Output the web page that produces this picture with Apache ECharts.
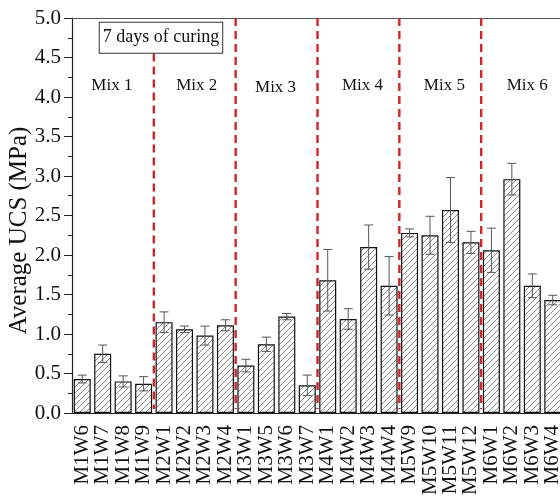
<!DOCTYPE html>
<html>
<head>
<meta charset="utf-8">
<script src="https://cdn.jsdelivr.net/npm/echarts@6/dist/echarts.min.js"></script>
<style>html,body{margin:0;padding:0;background:#fff;}#c{width:560px;height:500px;}</style>
</head>
<body>
<div id="c"></div>
<script>
const categories = ['M1W6','M1W7','M1W8','M1W9','M2W1','M2W2','M2W3','M2W4','M3W1','M3W5','M3W6','M3W7','M4W1','M4W2','M4W3','M4W4','M5W9','M5W10','M5W11','M5W12','M6W1','M6W2','M6W3','M6W4'];
const ucsMean  = [0.43,0.75,0.40,0.37,1.15,1.06,0.98,1.11,0.60,0.87,1.22,0.35,1.68,1.19,2.10,1.61,2.28,2.25,2.57,2.16,2.06,2.96,1.61,1.43];
const ucsError = [0.05,0.11,0.07,0.09,0.13,0.04,0.12,0.07,0.08,0.09,0.04,0.13,0.39,0.13,0.28,0.37,0.05,0.24,0.41,0.14,0.28,0.20,0.15,0.06];
const yTicks = [0,0.5,1,1.5,2,2.5,3,3.5,4,4.5,5];
const mixNames = ['Mix 1','Mix 2','Mix 3','Mix 4','Mix 5','Mix 6'];
const mixBoundaries = [3.5, 7.5, 11.5, 15.5, 19.5];
const curingNote = '7 days of curing';

// annotation placement (in axis units)
const mixLabelX = [1.45, 5.6, 9.45, 13.7, 17.7, 21.75];
const mixLabelY = [4.15, 4.15, 4.12, 4.15, 4.15, 4.15];
const boundaryTop = [4.55, 5, 5, 5, 5];
const noteX = 3.85, noteY = 4.75;

const FONT = '"Liberation Serif", "Times New Roman", serif';

// hatch pattern
const pc = document.createElement('canvas');
pc.width = 6; pc.height = 6;
const g = pc.getContext('2d');
g.fillStyle = '#fff'; g.fillRect(0,0,6,6);
g.strokeStyle = '#7a7a7a'; g.lineWidth = 0.9;
g.beginPath();
g.moveTo(0,6); g.lineTo(6,0);
g.moveTo(-1,1); g.lineTo(1,-1);
g.moveTo(5,7); g.lineTo(7,5);
g.stroke();

function xAt(api, p) {
  const i = Math.floor(p);
  const bw = api.size([1, 0])[0];
  return api.coord([i, 0])[0] + (p - i) * bw;
}

const chart = echarts.init(document.getElementById('c'), null, {renderer: 'canvas'});
chart.setOption({
  backgroundColor: '#fff',
  animation: false,
  grid: {left: 72, right: -3, top: 18, bottom: 87, containLabel: false, outerBoundsMode: 'none'},
  xAxis: [{
    type: 'category',
    data: categories,
    axisLine: {lineStyle: {color: '#222', width: 1.2}},
    axisTick: {alignWithLabel: true, length: 7, lineStyle: {color: '#222'}},
    axisLabel: {rotate: 90, fontFamily: FONT, fontSize: 21, color: '#111', margin: 12, interval: 0, hideOverlap: false}
  }, {
    type: 'category',
    position: 'top',
    data: categories,
    axisLine: {show: true, lineStyle: {color: '#555', width: 1.2}},
    axisTick: {show: false},
    axisLabel: {show: false}
  }],
  yAxis: {
    type: 'value',
    min: yTicks[0], max: yTicks[yTicks.length - 1], interval: 0.5,
    name: 'Average UCS (MPa)',
    nameLocation: 'middle',
    nameGap: 40,
    nameMoveOverlap: false,
    nameTextStyle: {fontFamily: FONT, fontSize: 25, color: '#111', padding: [0, 30, 0, 0]},
    axisLine: {show: true, lineStyle: {color: '#222', width: 1.2}},
    axisTick: {show: true, length: 8, lineStyle: {color: '#222'}},
    minorTick: {show: true, splitNumber: 2, length: 4, lineStyle: {color: '#222'}},
    splitLine: {show: false},
    axisLabel: {fontFamily: FONT, fontSize: 21, color: '#111', margin: 11, formatter: v => v.toFixed(1)}
  },
  series: [{
    type: 'bar',
    data: ucsMean,
    barWidth: '83%',
    itemStyle: {color: {image: pc, repeat: 'repeat'}, borderColor: '#111', borderWidth: 1.2},
    z: 2
  }, {
    type: 'custom',
    z: 3,
    data: ucsMean.map((m, i) => [i, m, ucsError[i]]),
    renderItem: function (params, api) {
      const i = api.value(0), m = api.value(1), e = api.value(2);
      const top = api.coord([i, m + e]);
      const bot = api.coord([i, m - e]);
      const hw = 4.5;
      const st = {stroke: '#555', lineWidth: 1};
      return {type: 'group', children: [
        {type: 'line', shape: {x1: top[0], y1: top[1], x2: bot[0], y2: bot[1]}, style: st},
        {type: 'line', shape: {x1: top[0]-hw, y1: top[1], x2: top[0]+hw, y2: top[1]}, style: st},
        {type: 'line', shape: {x1: bot[0]-hw, y1: bot[1], x2: bot[0]+hw, y2: bot[1]}, style: st}
      ]};
    }
  }, {
    type: 'custom',
    z: 4,
    data: mixBoundaries.map((b, i) => [b, boundaryTop[i]]),
    renderItem: function (params, api) {
      const p = api.value(0), t = api.value(1);
      const x = xAt(api, p);
      const y1 = api.coord([0, t])[1];
      const y2 = api.coord([0, 0.05])[1];
      return {type: 'line', shape: {x1: x, y1: y1, x2: x, y2: y2},
        style: {stroke: '#d0262a', lineWidth: 2.4, lineDash: [8, 5]}};
    }
  }, {
    type: 'custom',
    z: 5,
    data: mixNames.map((n, i) => [mixLabelX[i], mixLabelY[i]]),
    renderItem: function (params, api) {
      const x = xAt(api, api.value(0));
      const y = api.coord([0, api.value(1)])[1];
      return {type: 'text', x: x, y: y,
        style: {text: mixNames[params.dataIndex], font: '17px ' + FONT, fill: '#111', align: 'center', verticalAlign: 'middle'}};
    }
  }, {
    type: 'custom',
    z: 6,
    data: [[noteX, noteY]],
    renderItem: function (params, api) {
      const x = xAt(api, api.value(0));
      const y = api.coord([0, api.value(1)])[1];
      return {type: 'text', x: x, y: y,
        style: {text: curingNote, font: '18px ' + FONT, fill: '#111', align: 'center', verticalAlign: 'middle',
          backgroundColor: '#fff', borderColor: '#333', borderWidth: 1, padding: [7, 3, 5, 3]}};
    }
  }]
});
</script>
</body>
</html>
